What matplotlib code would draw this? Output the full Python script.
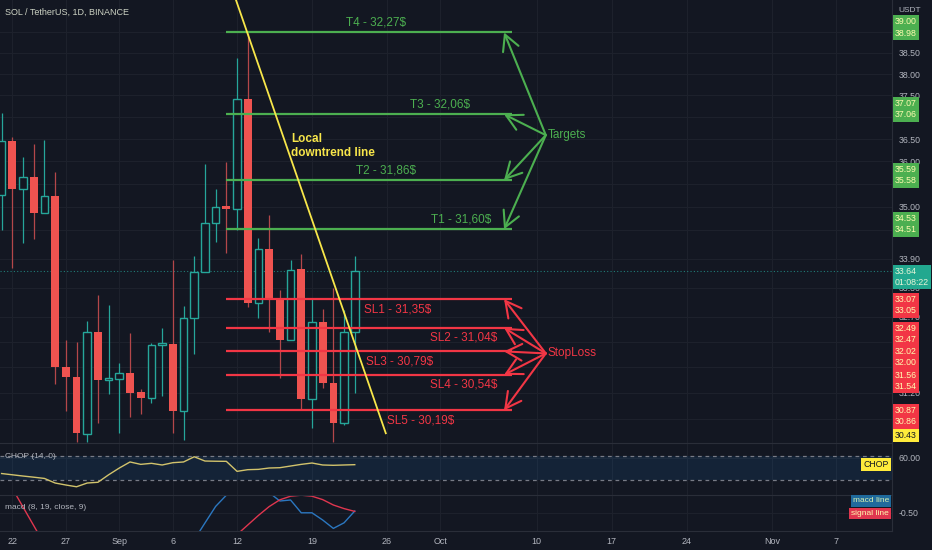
import numpy as np
import pandas as pd
import matplotlib
matplotlib.use('Agg')
import matplotlib.pyplot as plt
import matplotlib.transforms as mtransforms
from matplotlib.ticker import FixedLocator, NullLocator, FuncFormatter

plt.rcParams['font.family'] = ['Liberation Sans', 'DejaVu Sans']

# daily candles, SOL/USDT, Aug 21 - Sep 23 2022
dates = pd.date_range('2022-08-21', '2022-09-23', freq='D')
opens = [35.26, 36.46, 35.39, 35.66, 34.87, 35.24, 31.70, 31.51, 30.41, 32.40,
         31.45, 31.47, 31.59, 31.22, 31.10, 32.14, 32.16, 30.85, 32.68, 33.62,
         34.66, 35.02, 34.96, 37.42, 32.98, 34.10, 33.04, 32.24, 33.68, 31.08,
         32.60, 31.39, 30.62, 32.40]
highs = [37.10, 36.55, 36.10, 36.39, 36.48, 35.77, 32.24, 32.20, 32.62, 33.15,
         32.94, 31.78, 32.38, 31.27, 32.18, 32.48, 33.87, 32.92, 33.96, 35.94,
         35.39, 35.99, 38.38, 38.98, 34.34, 34.83, 33.25, 33.87, 34.00, 33.07,
         32.86, 33.29, 32.84, 33.96]
lows = [34.51, 33.70, 34.23, 34.32, 34.87, 31.37, 30.85, 30.27, 30.27, 30.62,
        31.18, 30.43, 30.74, 30.80, 31.01, 31.14, 30.43, 30.30, 31.96, 33.62,
        34.25, 34.02, 34.51, 32.90, 32.68, 32.40, 31.49, 32.24, 30.87, 30.52,
        31.29, 30.27, 30.59, 31.20]
closes = [36.46, 35.39, 35.66, 34.87, 35.24, 31.70, 31.51, 30.43, 32.40, 31.45,
          31.49, 31.59, 31.20, 31.10, 32.14, 32.18, 30.85, 32.68, 33.62, 34.66,
          35.00, 34.96, 37.42, 32.98, 34.10, 33.04, 32.24, 33.66, 31.08, 32.60,
          31.39, 30.62, 32.40, 33.64]
chop = [44.7, 43.5, 42.3, 41.2, 40.0, 35.6, 33.7, 32.0, 35.6, 36.3,
        43.5, 50.0, 55.8, 53.5, 54.5, 52.9, 55.1, 55.8, 60.8, 56.7,
        56.5, 56.4, 46.8, 48.4, 48.7, 50.0, 50.3, 51.9, 53.5, 54.8,
        52.9, 52.6, 52.9, 53.2]
macd_line = [-2.9, -2.8, -2.7, -2.6, -2.6, -2.8, -3.0, -3.2, -3.1, -3.0,
             -2.9, -2.8, -2.7, -2.6, -2.5, -2.4, -2.3, -2.2, -1.84, -1.0,
             -0.17, 0.39, 0.9, 1.0, 0.8, 0.52, 0.1, 0.15, -0.49, -0.49,
             -0.85, -1.27, -0.99, -0.40]
signal_line = [1.66, 0.73, -0.2, -1.13, -2.06, -2.5, -2.7, -2.8, -2.9, -2.9,
               -2.8, -2.7, -2.6, -2.5, -2.4, -2.3, -2.2, -2.1, -2.0, -1.95,
               -1.9, -1.85, -1.58, -1.1, -0.62, -0.18, 0.16, 0.34, 0.39, 0.34,
               0.17, -0.1, -0.28, -0.42]

last_price = 33.64
targets = [38.99, 37.065, 35.585, 34.52]
target_labels = ['T4 - 32,27$', 'T3 - 32,06$', 'T2 - 31,86$', 'T1 - 31,60$']
target_text_x = [34.0, 40.0, 34.9, 41.9]
stops = [33.06, 32.48, 32.01, 31.55, 30.865]
stop_labels = ['SL1 - 31,35$', 'SL2 - 31,04$', 'SL3 - 30,79$', 'SL4 - 30,54$', 'SL5 - 30,19$']
stop_text_x = [36.05, 42.2, 36.2, 42.2, 38.2]
trend = ([20.9, 34.9], [39.78, 30.43])

# grid levels of the price scale; only some labels show past the badges
price_ticks = [39.0, 38.5, 38.0, 37.5, 37.0, 36.5, 36.0, 35.5, 35.0, 34.5,
               33.9, 33.3, 32.7, 32.2, 31.7, 31.2, 30.7]
shown_ticks = [38.5, 38.0, 37.5, 36.5, 36.0, 35.0, 33.9, 33.3, 32.7, 31.2]
tick_dates = pd.to_datetime(['2022-08-22', '2022-08-27', '2022-09-01', '2022-09-06',
                             '2022-09-12', '2022-09-19', '2022-09-26', '2022-10-01',
                             '2022-10-10', '2022-10-17', '2022-10-24', '2022-11-01',
                             '2022-11-07'])

BG = '#131722'
GRID = '#1d212c'
SEP = '#2a2e39'
TXT = '#b2b5be'
UP = '#26a69a'
DOWN = '#ef5350'
GREEN = '#4caf50'
RED = '#f23645'
YELLOW = '#f7e64a'

origin = pd.Timestamp('2022-08-22')
x = np.asarray((dates - origin).days, dtype=float)
o, h, l, c = map(np.array, (opens, highs, lows, closes))
xticks = np.asarray((tick_dates - origin).days, dtype=float)
xlabels = [d.strftime('%b') if d.day == 1 else str(d.day) for d in tick_dates]

W, H = 932, 550
fig = plt.figure(figsize=(W / 100, H / 100), dpi=100, facecolor=BG)


def px_axes(left, top, right, bottom):
    a = fig.add_axes([left / W, 1 - bottom / H, (right - left) / W, (bottom - top) / H])
    a.set_facecolor(BG)
    a.set_xlim(-1.15, 82.2)
    a.set_xticks(xticks)
    a.tick_params(length=0, colors=TXT, labelsize=6.5)
    for s in a.spines.values():
        s.set_visible(False)
    a.spines['right'].set_visible(True)
    a.spines['right'].set_color(SEP)
    a.grid(True, color=GRID, lw=0.8)
    a.set_axisbelow(True)
    a.yaxis.tick_right()
    return a


ax = px_axes(0, 0, 892, 443)
ax_chop = px_axes(0, 443, 892, 495)
ax_macd = px_axes(0, 495, 892, 531)
for a in (ax, ax_chop):
    a.tick_params(labelbottom=False)
for a in (ax_chop, ax_macd):
    a.spines['top'].set_visible(True)
    a.spines['top'].set_color(SEP)
ax_macd.spines['bottom'].set_visible(True)
ax_macd.spines['bottom'].set_color(SEP)
ax_macd.set_xticklabels(xlabels)
ax_macd.tick_params(axis='x', pad=4, labelsize=6.5)

# --- price panel
ax.set_yscale('log')
ax.set_ylim(30.247, 39.78)
ax.yaxis.set_major_locator(FixedLocator(price_ticks))
ax.yaxis.set_minor_locator(NullLocator())
ax.yaxis.set_major_formatter(
    FuncFormatter(lambda v, p: f'{v:.2f}' if any(abs(v - t) < 1e-6 for t in shown_ticks) else ''))
ax.tick_params(axis='y', pad=5, labelsize=6.3)

up = c >= o
ax.vlines(x[up], l[up], h[up], color=UP, lw=0.9, zorder=2)
ax.vlines(x[~up], l[~up], h[~up], color='#b4474a', lw=0.9, zorder=2)
ax.bar(x[up], np.maximum(c[up] - o[up], 0.03), bottom=o[up], width=0.72,
       facecolor=BG, edgecolor=UP, lw=1.0, zorder=3)
ax.bar(x[~up], np.maximum(o[~up] - c[~up], 0.03), bottom=c[~up], width=0.72,
       color=DOWN, lw=0, zorder=3)

ax.axhline(last_price, color=UP, lw=0.8, ls=(0, (1, 2)), alpha=0.7, zorder=1)

line_start, line_end, tip_x, apex_x = 20.0, 46.7, 45.95, 49.85
ax.hlines(targets, line_start, line_end, color=GREEN, lw=1.6, zorder=4)
ax.hlines(stops, line_start, line_end, color=RED, lw=1.6, zorder=4)

arrow = dict(arrowstyle='->,head_length=0.75,head_width=0.4', lw=1.5,
             shrinkA=0, shrinkB=0, mutation_scale=15)
for lvl in targets:
    ax.annotate('', xy=(tip_x, lvl), xytext=(apex_x, 36.59),
                arrowprops=dict(arrow, color=GREEN), zorder=4)
for lvl in stops:
    ax.annotate('', xy=(tip_x, lvl), xytext=(apex_x, 31.97),
                arrowprops=dict(arrow, color=RED), zorder=4)
ax.text(apex_x + 0.2, 36.59, 'Targets', color=GREEN, fontsize=8.5, va='center', ha='left')
ax.text(apex_x + 0.2, 31.97, 'StopLoss', color=RED, fontsize=8.5, va='center', ha='left')

for lvl, lab, tx in zip(targets, target_labels, target_text_x):
    ax.annotate(lab, (tx, lvl), xytext=(0, 10), textcoords='offset pixels',
                color=GREEN, fontsize=8.5, ha='center', va='center', zorder=5)
for lvl, lab, tx in zip(stops, stop_labels, stop_text_x):
    ax.annotate(lab, (tx, lvl), xytext=(0, -10), textcoords='offset pixels',
                color=RED, fontsize=8.5, ha='center', va='center', zorder=5)

ax.plot(trend[0], trend[1], color=YELLOW, lw=1.3, zorder=6, clip_on=True)
ax.text(26.05, 36.64, 'Local\ndowntrend line', color=YELLOW, fontsize=8.5,
        fontweight='bold', va='top', ha='left', linespacing=1.2, zorder=6)

fig.text(5 / W, 1 - 12 / H, 'SOL / TetherUS, 1D, BINANCE', color='#cdd3c4',
         fontsize=6.5, va='center', ha='left')
fig.text(898 / W, 1 - 10 / H, 'USDT', color=TXT, fontsize=6, va='center', ha='left')


def badge(a, yval, text, fc, tc, dy=0, inside=False, size=6.3):
    trans = mtransforms.blended_transform_factory(a.transAxes, a.transData)
    trans = mtransforms.offset_copy(trans, fig=fig, x=(-3 if inside else 3), y=dy,
                                    units='dots')
    a.text(1.0, yval, text, transform=trans, ha='right' if inside else 'left',
           va='center', fontsize=size, color=tc, linespacing=1.32, clip_on=False,
           zorder=10, bbox=dict(boxstyle='square,pad=0.25', fc=fc, ec='none'))


badge_text = '#fffbb0'
badge(ax, 38.99, '39.00\n38.98', GREEN, badge_text, dy=5)
badge(ax, 37.065, '37.07\n37.06', GREEN, badge_text, dy=5)
badge(ax, 35.585, '35.59\n35.58', GREEN, badge_text, dy=5)
badge(ax, 34.52, '34.53\n34.51', GREEN, badge_text, dy=5)
badge(ax, last_price, '33.64\n01:08:22', '#22a88f', '#e8f5d8', dy=-6)
badge(ax, 33.06, '33.07\n33.05', RED, badge_text, dy=-6)
badge(ax, (stops[1] + stops[2]) / 2, '32.49\n32.47\n32.02\n32.00', RED, badge_text, dy=-6)
badge(ax, 31.55, '31.56\n31.54', RED, badge_text, dy=-6)
badge(ax, 30.865, '30.87\n30.86', RED, badge_text, dy=-6)
badge(ax, trend[1][1], '30.43', '#ffeb3b', BG, dy=-2)

# --- CHOP panel
ax_chop.set_ylim(24.1, 74.0)
ax_chop.axhspan(38.2, 61.8, color='#2196f3', alpha=0.1, lw=0)
ax_chop.axhline(61.8, color='#787b86', lw=0.9, ls=(0, (3, 3)))
ax_chop.axhline(38.2, color='#787b86', lw=0.9, ls=(0, (3, 3)))
ax_chop.plot(x, chop, color='#d2c36c', lw=1.0)
ax_chop.set_yticks([60.0])
ax_chop.yaxis.set_major_formatter(FuncFormatter(lambda v, p: f'{v:.2f}'))
ax_chop.tick_params(axis='y', pad=5, labelsize=6.3)
ax_chop.text(5 / 892, 0.75, 'CHOP (14, 0)', transform=ax_chop.transAxes,
             color=TXT, fontsize=6, va='center')
badge(ax_chop, chop[-1], 'CHOP', '#ffeb3b', BG, inside=True)

# --- MACD panel
ax_macd.set_ylim(-1.4, 0.4)
ax_macd.plot(x, macd_line, color='#2b77c0', lw=1.0)
ax_macd.plot(x, signal_line, color='#e0364f', lw=1.0)
ax_macd.set_yticks([-0.5])
ax_macd.yaxis.set_major_formatter(FuncFormatter(lambda v, p: f'{v:.2f}'.replace('\u2212', '-')))
ax_macd.tick_params(axis='y', pad=5, labelsize=6.3)
ax_macd.text(5 / 892, 0.66, 'macd (8, 19, close, 9)', transform=ax_macd.transAxes,
             color=TXT, fontsize=6, va='center')
badge(ax_macd, macd_line[-1], 'macd line', '#1f6a9c', '#d8f0b0', dy=10, inside=True, size=6)
badge(ax_macd, signal_line[-1], 'signal line', '#e0364f', badge_text, dy=-2, inside=True, size=6)

fig.savefig('out.png', dpi=100, facecolor=BG)
